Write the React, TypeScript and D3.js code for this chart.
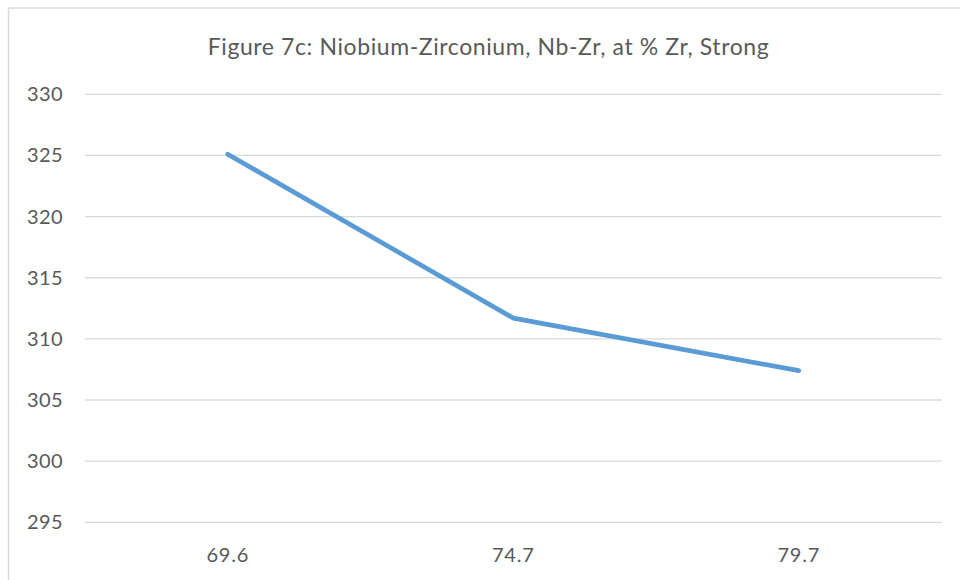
import React, { useEffect, useRef } from 'react';
import * as d3 from 'd3';

// chart data
const categories = ['69.6', '74.7', '79.7'];
const values = [325.1, 311.7, 307.4];
const yTicks = [295, 300, 305, 310, 315, 320, 325, 330];
const title = 'Figure 7c: Niobium-Zirconium, Nb-Zr, at % Zr, Strong';

const App = () => {
  const svgRef = useRef<SVGSVGElement>(null);

  useEffect(() => {
    const width = 960;
    const height = 580;
    const margin = { top: 94.3, right: 18.5, bottom: 57.7, left: 85 };
    const font = 'Lato, "Open Sans", sans-serif';
    const textColor = '#595959';

    const svg = d3.select(svgRef.current);
    svg.selectAll('*').remove();
    svg.attr('width', width).attr('height', height);

    svg.append('rect')
      .attr('width', width)
      .attr('height', height)
      .attr('fill', '#fff');

    // chart area border (runs off the right and bottom edge)
    svg.append('rect')
      .attr('x', 8.5)
      .attr('y', 8)
      .attr('width', 1000)
      .attr('height', 1000)
      .attr('fill', 'none')
      .attr('stroke', '#d9d9d9')
      .attr('stroke-width', 1.5);

    const x = d3.scaleBand()
      .domain(categories)
      .range([margin.left, width - margin.right]);

    const y = d3.scaleLinear()
      .domain([295, 330])
      .range([height - margin.bottom, margin.top]);

    // gridlines
    svg.append('g')
      .selectAll('line')
      .data(yTicks)
      .join('line')
      .attr('x1', margin.left)
      .attr('x2', width - margin.right)
      .attr('y1', d => y(d))
      .attr('y2', d => y(d))
      .attr('stroke', '#d9d9d9')
      .attr('stroke-width', 1.3);

    // y labels
    svg.append('g')
      .selectAll('text')
      .data(yTicks)
      .join('text')
      .attr('x', 63)
      .attr('y', d => y(d))
      .attr('dy', '0.35em')
      .attr('text-anchor', 'end')
      .attr('font-family', font)
      .attr('font-size', 20)
      .attr('letter-spacing', 0.4)
      .attr('fill', textColor)
      .text(d => d);

    // x labels
    svg.append('g')
      .selectAll('text')
      .data(categories)
      .join('text')
      .attr('x', d => x(d)! + x.bandwidth() / 2)
      .attr('y', 562)
      .attr('text-anchor', 'middle')
      .attr('font-family', font)
      .attr('font-size', 20)
      .attr('letter-spacing', 0.8)
      .attr('fill', textColor)
      .text(d => d);

    const line = d3.line<number>()
      .x((d, i) => x(categories[i])! + x.bandwidth() / 2)
      .y(d => y(d));

    svg.append('path')
      .datum(values)
      .attr('fill', 'none')
      .attr('stroke', '#5b9bd5')
      .attr('stroke-width', 4.7)
      .attr('stroke-linecap', 'round')
      .attr('stroke-linejoin', 'round')
      .attr('d', line);

    svg.append('text')
      .attr('x', 488.5)
      .attr('y', 54.5)
      .attr('text-anchor', 'middle')
      .attr('font-family', font)
      .attr('font-size', 23)
      .attr('letter-spacing', 0.6)
      .attr('fill', textColor)
      .text(title);
  }, []);

  return <svg ref={svgRef} style={{ position: 'absolute', left: 0, top: 0, display: 'block' }}></svg>;
};

export default App;
